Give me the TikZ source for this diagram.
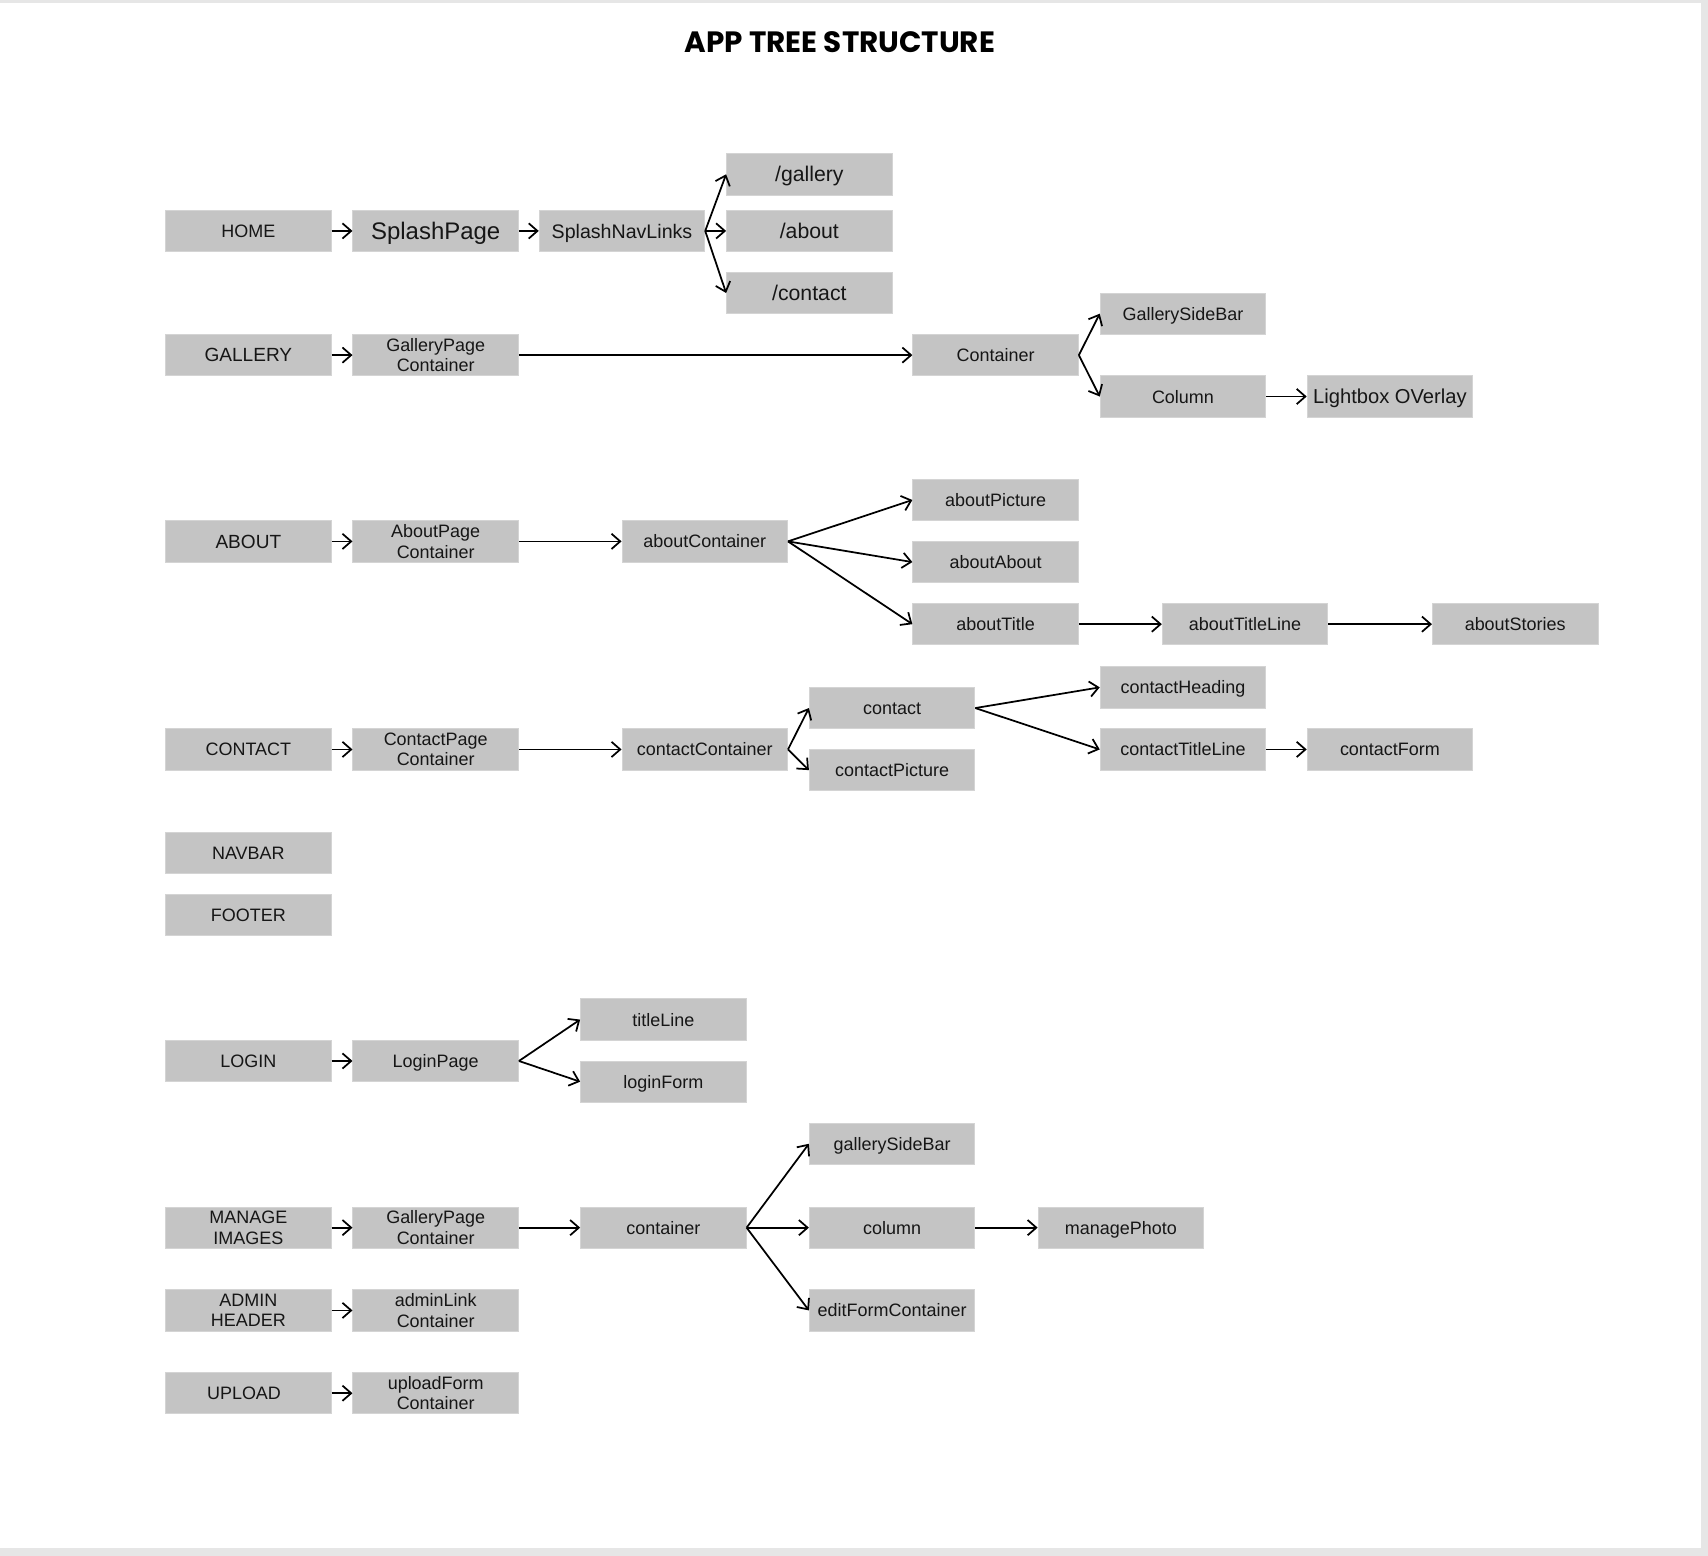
\documentclass[tikz,border=0pt]{standalone}
\usepackage{fontspec}
\setmainfont{Liberation Sans}
\newfontfamily\titlefont{Poppins}
\usetikzlibrary{arrows.meta}
\definecolor{boxgray}{HTML}{C4C4C4}
\definecolor{boxedge}{HTML}{D4D4D4}
\definecolor{pagegray}{HTML}{E6E6E6}
\definecolor{ink}{HTML}{161616}
\tikzset{
  box/.style={fill=boxgray, draw=boxedge, line width=0.8pt, minimum width=152pt,
    minimum height=38pt, inner sep=0pt, align=center, text=ink,
    font=\fontsize{16.5}{19}\selectfont},
  one/.style={box, text height=12pt, text depth=0pt},
  bigtxt/.style={font=\fontsize{22}{26}\selectfont, text height=16pt, text depth=0pt},
  midtxt/.style={font=\fontsize{19.5}{23}\selectfont, text height=14pt, text depth=0pt},
  captxt/.style={font=\fontsize{17.5}{20}\selectfont, text height=12.5pt, text depth=0pt},
  conn/.style={-{Straight Barb[length=8pt,width=14pt]}, line width=1.6pt, draw=black},
}
\begin{document}
\begin{tikzpicture}[x=1pt,y=-1pt]
\fill[pagegray] (0,0) rectangle (1568,1428);
\fill[white] (0,3) rectangle (1562,1421);
\useasboundingbox (0,0) rectangle (1568,1428);

\node[font=\titlefont\bfseries\fontsize{27}{30}\selectfont, text=black] (title) at (771,39) {APP TREE STRUCTURE};

% HOME row
\node[one] (home) at (228,212) {HOME};
\node[one,bigtxt] (splash) at (400,212) {SplashPage};
\node[one,font=\fontsize{18}{21}\selectfont,text height=13pt] (navlinks) at (571,212) {SplashNavLinks};
\node[one,midtxt] (lgallery) at (743,160) {/gallery};
\node[one,midtxt] (labout) at (743,212) {/about};
\node[one,midtxt] (lcontact) at (743,269) {/contact};
\draw[conn] (home) -- (splash);
\draw[conn] (splash) -- (navlinks);
\draw[conn] (navlinks.east) -- (lgallery.west);
\draw[conn] (navlinks.east) -- (labout.west);
\draw[conn] (navlinks.east) -- (lcontact.west);

% GALLERY row
\node[one,captxt] (gallery) at (228,326) {GALLERY};
\node[box] (gpc) at (400,326) {GalleryPage\\Container};
\node[one] (gcont) at (914,326) {Container};
\node[one] (gside) at (1086,288) {GallerySideBar};
\node[one] (gcol) at (1086,364) {Column};
\node[one,font=\fontsize{18.5}{22}\selectfont,text height=13.5pt] (lightbox) at (1276,364) {Lightbox OVerlay};
\draw[conn] (gallery) -- (gpc);
\draw[conn] (gpc) -- (gcont);
\draw[conn] (gcont.east) -- (gside.west);
\draw[conn] (gcont.east) -- (gcol.west);
\draw[conn] (gcol) -- (lightbox);

% ABOUT row
\node[one,captxt] (about) at (228,497) {ABOUT};
\node[box] (apc) at (400,497) {AboutPage\\Container};
\node[one] (acont) at (647,497) {aboutContainer};
\node[one] (apic) at (914,459) {aboutPicture};
\node[one] (aabout) at (914,516) {aboutAbout};
\node[one] (atitle) at (914,573) {aboutTitle};
\node[one] (atline) at (1143,573) {aboutTitleLine};
\node[one] (astories) at (1391,573) {aboutStories};
\draw[conn] (about) -- (apc);
\draw[conn] (apc) -- (acont);
\draw[conn] (acont.east) -- (apic.west);
\draw[conn] (acont.east) -- (aabout.west);
\draw[conn] (acont.east) -- (atitle.west);
\draw[conn] (atitle) -- (atline);
\draw[conn] (atline) -- (astories);

% CONTACT row
\node[one] (contact) at (228,688) {CONTACT};
\node[box] (cpc) at (400,688) {ContactPage\\Container};
\node[one] (ccont) at (647,688) {contactContainer};
\node[one] (cc) at (819,650) {contact};
\node[one] (cpic) at (819,707) {contactPicture};
\node[one] (chead) at (1086,631) {contactHeading};
\node[one] (ctline) at (1086,688) {contactTitleLine};
\node[one] (cform) at (1276,688) {contactForm};
\draw[conn] (contact) -- (cpc);
\draw[conn] (cpc) -- (ccont);
\draw[conn] (ccont.east) -- (cc.west);
\draw[conn] (ccont.east) -- (cpic.west);
\draw[conn] (cc.east) -- (chead.west);
\draw[conn] (cc.east) -- (ctline.west);
\draw[conn] (ctline) -- (cform);

% NAVBAR / FOOTER
\node[one] (navbar) at (228,783) {NAVBAR};
\node[one] (footer) at (228,840) {FOOTER};

% LOGIN row
\node[one] (login) at (228,974) {LOGIN};
\node[one] (lpage) at (400,974) {LoginPage};
\node[one] (tline) at (609,936) {titleLine};
\node[one] (lform) at (609,993) {loginForm};
\draw[conn] (login) -- (lpage);
\draw[conn] (lpage.east) -- (tline.west);
\draw[conn] (lpage.east) -- (lform.west);

% MANAGE IMAGES row
\node[box] (manage) at (228,1127) {MANAGE\\IMAGES};
\node[box] (mgpc) at (400,1127) {GalleryPage\\Container};
\node[one] (mcont) at (609,1127) {container};
\node[one] (mside) at (819,1050) {gallerySideBar};
\node[one] (mcol) at (819,1127) {column};
\node[one] (medit) at (819,1203) {editFormContainer};
\node[one] (mphoto) at (1029,1127) {managePhoto};
\draw[conn] (manage) -- (mgpc);
\draw[conn] (mgpc) -- (mcont);
\draw[conn] (mcont.east) -- (mside.west);
\draw[conn] (mcont.east) -- (mcol.west);
\draw[conn] (mcont.east) -- (medit.west);
\draw[conn] (mcol) -- (mphoto);

% ADMIN HEADER row
\node[box] (admin) at (228,1203) {ADMIN\\HEADER};
\node[box] (alc) at (400,1203) {adminLink\\Container};
\draw[conn] (admin) -- (alc);

% UPLOAD row
\node[one] (upload) at (228,1279) {UPLOAD\hspace*{8pt}};
\node[box] (ufc) at (400,1279) {uploadForm\\Container};
\draw[conn] (upload) -- (ufc);
\end{tikzpicture}
\end{document}
